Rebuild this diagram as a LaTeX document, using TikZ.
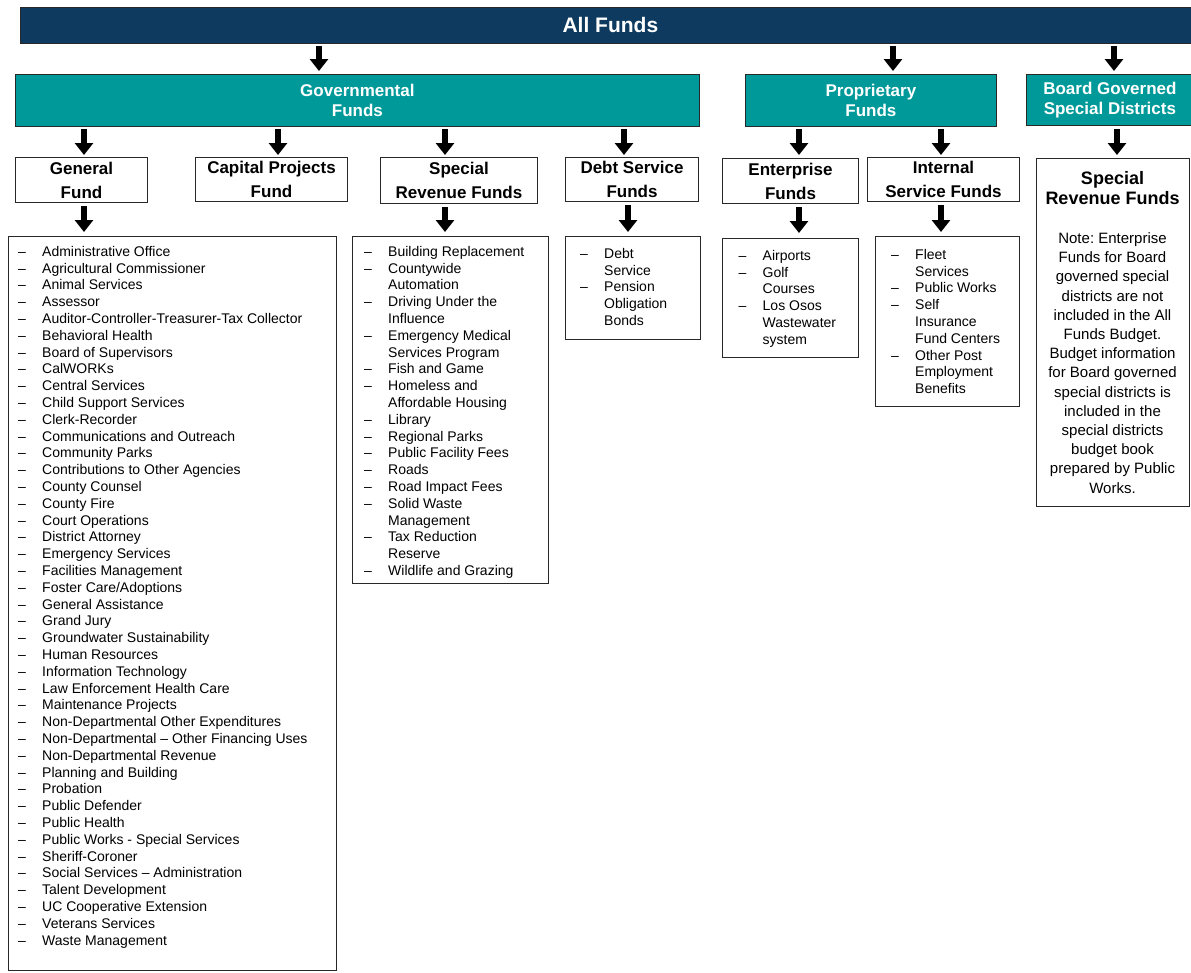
\documentclass[tikz,border=0pt]{standalone}
\usepackage{fontspec}
\setmainfont{Liberation Sans}
\usetikzlibrary{arrows.meta}
\definecolor{navy}{RGB}{13,58,94}
\definecolor{tealc}{RGB}{0,153,153}
\definecolor{edgec}{RGB}{40,40,40}
\newcommand{\dsh}{\makebox[24pt][l]{–}}
\newcommand{\ind}{\hspace*{24pt}}
\frenchspacing
\tikzset{
  banner/.style={draw=edgec, line width=0.8pt, fill=navy, text=white,
    font=\fontsize{21}{24}\selectfont\bfseries, anchor=north west, inner sep=0pt},
  hdr/.style={draw=edgec, line width=0.8pt, fill=tealc, text=white,
    font=\fontsize{17}{20}\selectfont\bfseries, align=center, anchor=north west, inner sep=0pt},
  fundbox/.style={draw=edgec, line width=1pt, fill=white,
    font=\fontsize{17}{24}\selectfont\bfseries, align=center, anchor=north west, inner sep=0pt},
  listbox/.style={draw=edgec, line width=1pt, anchor=north west, inner sep=0pt},
  listtext/.style={font=\fontsize{14}{16.8}\selectfont, align=left, anchor=north west, inner sep=0pt},
  blk/.style={line width=6pt, -{Triangle[width=18pt,length=12pt]}, black},
}
\begin{document}
\begin{tikzpicture}[x=1pt,y=-1pt]
\useasboundingbox (0,0) rectangle (1191,972);
% top banner
\node[banner, minimum width=1180pt, minimum height=36pt] (allf) at (20,7) {All Funds};
% headers
\node[hdr, minimum width=684pt, minimum height=52pt] (gov) at (15,74) {Governmental\\Funds};
\node[hdr, minimum width=251pt, minimum height=52pt] (prop) at (745,74) {Proprietary\\Funds};
\node[hdr, minimum width=175pt, minimum height=51pt] (bgsd) at (1026,74) {\hspace*{-8pt}Board Governed\\\hspace*{-8pt}Special Districts};
% fund boxes
\node[fundbox, minimum width=132pt, minimum height=45pt] (genf) at (15,157) {General\\Fund};
\node[fundbox, minimum width=152pt, minimum height=44pt] (capf) at (195,157) {Capital Projects\\Fund};
\node[fundbox, minimum width=157pt, minimum height=46pt] (srf) at (380,157) {Special\\Revenue Funds};
\node[fundbox, minimum width=133pt, minimum height=44pt] (dsf) at (565,157) {Debt Service\\Funds};
\node[fundbox, minimum width=136pt, minimum height=45pt] (entf) at (722,158) {Enterprise\\Funds};
\node[fundbox, minimum width=152pt, minimum height=44pt] (isf) at (867,157) {Internal\\Service Funds};
\node[listbox, minimum width=153pt, minimum height=348pt] (bsrf) at (1036,158) {};
\node[anchor=north, inner sep=0pt] (bsrft) at (1112.5,171) {\begin{minipage}[t]{150pt}\centering
  \fontsize{18}{20}\selectfont\bfseries Special\\Revenue Funds\par
  \vspace{20pt}
  \fontsize{15}{19.2}\selectfont\mdseries
  Note: Enterprise\\Funds for Board\\governed special\\districts are not\\included in the All\\Funds Budget.\\Budget information\\for Board governed\\special districts is\\included in the\\special districts\\budget book\\prepared by Public\\Works.\par
  \end{minipage}};
% list boxes
\node[listbox, minimum width=328pt, minimum height=734pt] (glist) at (8,236) {};
\node[listbox, minimum width=196pt, minimum height=347pt] (slist) at (352,236) {};
\node[listbox, minimum width=135pt, minimum height=103pt] (dlist) at (565,236) {};
\node[listbox, minimum width=136pt, minimum height=119pt] (elist) at (722,238) {};
\node[listbox, minimum width=144pt, minimum height=170pt] (ilist) at (875,236) {};
% list texts
\node[listtext] (glt) at (18,246) {\dsh Administrative Office\\
\dsh Agricultural Commissioner\\
\dsh Animal Services\\
\dsh Assessor\\
\dsh Auditor-Controller-Treasurer-Tax Collector\\
\dsh Behavioral Health\\
\dsh Board of Supervisors\\
\dsh CalWORKs\\
\dsh Central Services\\
\dsh Child Support Services\\
\dsh Clerk-Recorder\\
\dsh Communications and Outreach\\
\dsh Community Parks\\
\dsh Contributions to Other Agencies\\
\dsh County Counsel\\
\dsh County Fire\\
\dsh Court Operations\\
\dsh District Attorney\\
\dsh Emergency Services\\
\dsh Facilities Management\\
\dsh Foster Care/Adoptions\\
\dsh General Assistance\\
\dsh Grand Jury\\
\dsh Groundwater Sustainability\\
\dsh Human Resources\\
\dsh Information Technology\\
\dsh Law Enforcement Health Care\\
\dsh Maintenance Projects\\
\dsh Non-Departmental Other Expenditures\\
\dsh Non-Departmental – Other Financing Uses\\
\dsh Non-Departmental Revenue\\
\dsh Planning and Building\\
\dsh Probation\\
\dsh Public Defender\\
\dsh Public Health\\
\dsh Public Works - Special Services\\
\dsh Sheriff-Coroner\\
\dsh Social Services – Administration\\
\dsh Talent Development\\
\dsh UC Cooperative Extension\\
\dsh Veterans Services\\
\dsh Waste Management};
\node[listtext] (slt) at (364,246) {\dsh Building Replacement\\
\dsh Countywide\\
\ind Automation\\
\dsh Driving Under the\\
\ind Influence\\
\dsh Emergency Medical\\
\ind Services Program\\
\dsh Fish and Game\\
\dsh Homeless and\\
\ind Affordable Housing\\
\dsh Library\\
\dsh Regional Parks\\
\dsh Public Facility Fees\\
\dsh Roads\\
\dsh Road Impact Fees\\
\dsh Solid Waste\\
\ind Management\\
\dsh Tax Reduction\\
\ind Reserve\\
\dsh Wildlife and Grazing};
\node[listtext] (dlt) at (580,248) {\dsh Debt\\
\ind Service\\
\dsh Pension\\
\ind Obligation\\
\ind Bonds};
\node[listtext] (elt) at (738.5,250) {\dsh Airports\\
\dsh Golf\\
\ind Courses\\
\dsh Los Osos\\
\ind Wastewater\\
\ind system};
\node[listtext] (ilt) at (891,249) {\dsh Fleet\\
\ind Services\\
\dsh Public Works\\
\dsh Self\\
\ind Insurance\\
\ind Fund Centers\\
\dsh Other Post\\
\ind Employment\\
\ind Benefits};
% arrows row 1
\draw[blk, shorten <=2pt, shorten >=3pt] (allf.south -| 319,0) -- (gov.north -| 319,0);
\draw[blk, shorten <=2pt, shorten >=3pt] (allf.south -| 893,0) -- (prop.north -| 893,0);
\draw[blk, shorten <=2pt, shorten >=3pt] (allf.south -| 1114,0) -- (bgsd.north -| 1114,0);
% arrows row 2
\draw[blk, shorten <=2pt, shorten >=2pt] (gov.south -| 84,0) -- (genf.north -| 84,0);
\draw[blk, shorten <=2pt, shorten >=2pt] (gov.south -| 278,0) -- (capf.north -| 278,0);
\draw[blk, shorten <=2pt, shorten >=2pt] (gov.south -| 445,0) -- (srf.north -| 445,0);
\draw[blk, shorten <=2pt, shorten >=2pt] (gov.south -| 624,0) -- (dsf.north -| 624,0);
\draw[blk, shorten <=2pt, shorten >=3pt] (prop.south -| 799,0) -- (entf.north -| 799,0);
\draw[blk, shorten <=2pt, shorten >=2pt] (prop.south -| 941,0) -- (isf.north -| 941,0);
\draw[blk, shorten <=3pt, shorten >=3pt] (bgsd.south -| 1117,0) -- (bsrf.north -| 1117,0);
% arrows row 3
\draw[blk, shorten <=3pt, shorten >=4pt] (genf.south -| 84,0) -- (glist.north -| 84,0);
\draw[blk, shorten <=3pt, shorten >=4pt] (srf.south -| 445,0) -- (slist.north -| 445,0);
\draw[blk, shorten <=3pt, shorten >=4pt] (dsf.south -| 628,0) -- (dlist.north -| 628,0);
\draw[blk, shorten <=3pt, shorten >=5pt] (entf.south -| 799,0) -- (elist.north -| 799,0);
\draw[blk, shorten <=3pt, shorten >=4pt] (isf.south -| 941,0) -- (ilist.north -| 941,0);
\end{tikzpicture}
\end{document}
